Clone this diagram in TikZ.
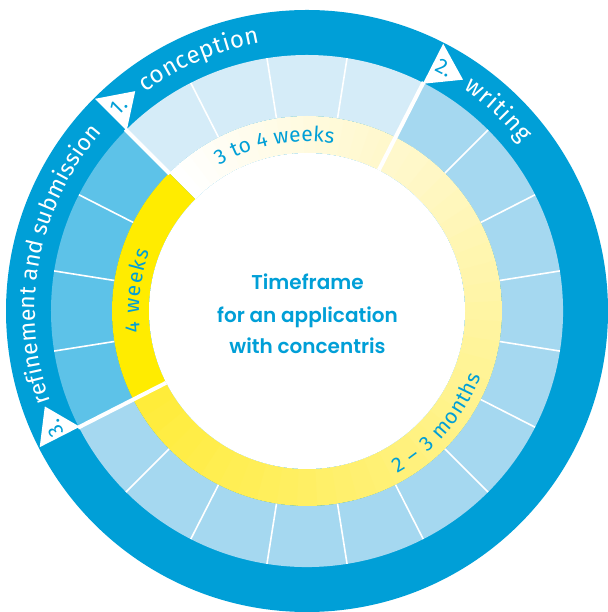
\documentclass[tikz,border=0pt]{standalone}
\usepackage{fontspec}
\newfontfamily\ringfont{Fira Sans}
\newfontfamily\centerfont{Poppins}[UprightFont=* SemiBold]
\usetikzlibrary{decorations.text}
\definecolor{ringblue}{HTML}{009FD7}
\definecolor{cellA}{HTML}{D5ECF8}
\definecolor{cellB}{HTML}{A5D8F0}
\definecolor{cellC}{HTML}{5DC2E8}
\definecolor{yelC}{HTML}{FFEC00}
\definecolor{yelA}{HTML}{FFF8CC}
\definecolor{yelB}{HTML}{FFEC3A}
\newcommand\ringtxt{\ringfont\fontsize{24}{28}\selectfont}
\newcommand\ringtxtsm{\ringfont\fontsize{23}{28}\selectfont}
\newcommand\innertxt{\ringfont\fontsize{21}{24}\selectfont}
\newcommand\flagtxt{\ringfont\fontsize{21}{22}\selectfont}
\newcommand\annsec[5]{\fill[#1] (#2:#4) arc[start angle=#2, end angle=#3, radius=#4] -- (#3:#5) arc[start angle=#3, end angle=#2, radius=#5] -- cycle;}
\begin{document}
\begin{tikzpicture}[
  centertext/.style={font=\centerfont\fontsize{20}{24}\selectfont, text=ringblue, inner sep=0pt},
  flagnum/.style={font=\flagtxt, text=ringblue, inner sep=0pt},
  celldiv/.style={white, line width=1.6pt},
  stagediv/.style={white, line width=4pt},
  flagshape/.style={fill=white}
]
\useasboundingbox (0,0) rectangle (607pt,612pt);
\begin{scope}[shift={(307pt,301pt)}]
  % outer blue ring
  \fill[ringblue] (0,0) circle[radius=301pt];
  % cells
  \annsec{cellA}{63}{135}{195pt}{256pt}
  \annsec{cellB}{-153}{63}{195pt}{256pt}
  \annsec{cellC}{135}{207}{195pt}{256pt}
  % yellow ring: conception part (white to pale)
  \foreach \i in {0,...,17}{
    \pgfmathsetmacro\aa{135-4*\i}
    \pgfmathsetmacro\ab{135-4*\i-4.3}
    \pgfmathtruncatemacro\p{100*\i/17}
    \annsec{yelA!\p!white}{\aa}{\ab}{158pt}{195pt}
  }
  % yellow ring: writing part (pale to strong)
  \foreach \i in {0,...,35}{
    \pgfmathsetmacro\aa{63-6*\i}
    \pgfmathsetmacro\ab{63-6*\i-6.3}
    \pgfmathtruncatemacro\p{100*\i/35}
    \annsec{yelB!\p!yelA}{\aa}{\ab}{158pt}{195pt}
  }
  % yellow ring: refinement part
  \annsec{yelC}{135}{207}{158pt}{195pt}
  % inner white disc
  \fill[white] (0,0) circle[radius=158pt];
  % cell dividers
  \foreach \a in {117,99,81,45,27,9,-9,-27,-45,-63,-81,-99,-117,-135,189,171,153}
    \draw[celldiv] (\a:195pt) -- (\a:256pt);
  % stage dividers
  \draw[stagediv] (135:194pt) -- (135:257pt);
  \draw[stagediv] (63:158pt) -- (63:257pt);
  \draw[stagediv] (207:158pt) -- (207:257pt);
  % flags
  \fill[flagshape] (135:255pt) -- (135:300pt) -- (128:279pt) -- cycle;
  \fill[flagshape] (63:255pt) -- (63:300pt) -- (56:279pt) -- cycle;
  \fill[flagshape] (207:255pt) -- (207:300pt) -- (200:279pt) -- cycle;
  \node[flagnum, rotate=45] (f1) at (132.6:278pt) {1.};
  \node[flagnum, rotate=-27] (f2) at (60.6:279pt) {2.};
  \node[flagnum, rotate=117] (f3) at (205.0:278pt) {3.};
  % ring texts
  \path[decorate, decoration={text along path, text={|\ringtxt|conception}, text align={fit to path}, text color=white}]
    (126.5:272pt) arc[start angle=126.5, end angle=100, radius=272pt];
  \path[decorate, decoration={text along path, text={|\ringtxt|writing}, text align={fit to path}, text color=white}]
    (55:272pt) arc[start angle=55, end angle=38, radius=272pt];
  \path[decorate, decoration={text along path, text={|\ringtxtsm|refinement and submission}, text align={fit to path}, text color=white}]
    (199.5:272pt) arc[start angle=199.5, end angle=139, radius=272pt];
  % duration texts
  \path[decorate, decoration={text along path, text={|\innertxt|3 to 4 weeks}, text align={fit to path}, text color=ringblue}]
    (121:169.5pt) arc[start angle=121, end angle=81, radius=169.5pt];
  \path[decorate, decoration={text along path, text={|\innertxt|4 weeks}, text align={fit to path}, text color=ringblue}]
    (187.2:168pt) arc[start angle=187.2, end angle=159.3, radius=168pt];
  \path[decorate, decoration={text along path, text={|\innertxt|2 – 3 months}, text align={fit to path}, text color=ringblue}]
    (-60.8:186pt) arc[start angle=-60.8, end angle=-20.6, radius=186pt];
\end{scope}
% centre title
\node[centertext, anchor=base] (ct1) at (307.5pt,322.7pt) {Timeframe};
\node[centertext, anchor=base] (ct2) at (307.5pt,289.3pt) {for an application};
\node[centertext, anchor=base] (ct3) at (307.5pt,258.7pt) {with concentris};
\end{tikzpicture}
\end{document}
